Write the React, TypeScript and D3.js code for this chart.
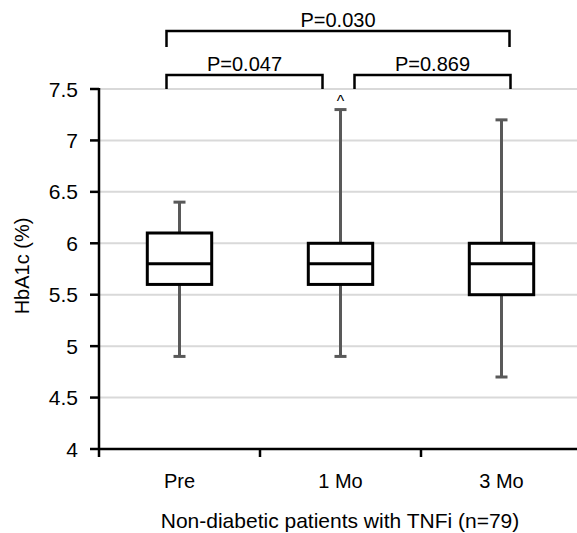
import React from "react";
import * as d3 from "d3";

const categories = ["Pre", "1 Mo", "3 Mo"];
const whiskerMin = [4.9, 4.9, 4.7];
const q1 = [5.6, 5.6, 5.5];
const median = [5.8, 5.8, 5.8];
const q3 = [6.1, 6.0, 6.0];
const whiskerMax = [6.4, 7.3, 7.2];
const yTicks = [4, 4.5, 5, 5.5, 6, 6.5, 7, 7.5];
const markers = ["", "^", ""];
const comparisons = [
  { from: 0, to: 1, label: "P=0.047", level: 0 },
  { from: 1, to: 2, label: "P=0.869", level: 0 },
  { from: 0, to: 2, label: "P=0.030", level: 1 },
];

const W = 577;
const H = 533;
const FONT = "'Liberation Sans', Arial, sans-serif";

export default function App() {
  const y = d3.scaleLinear().domain([4, 7.5]).range([449, 89]);
  const x = d3.scaleBand<string>().domain(categories).range([99, 582]).padding(0);
  const bw = x.bandwidth();
  const boxW = bw * 0.4;
  const cx = (i: number) => (x(categories[i]) as number) + bw / 2;
  const capW = 12;
  const fmt = (v: number) => String(v);

  const bracketOffsets: Record<string, [number, number]> = {
    "P=0.047": [-13, -18],
    "P=0.869": [14, 9],
    "P=0.030": [-13, 8],
  };

  return (
    <svg width={W} height={H} style={{ position: "absolute", left: 0, top: 0, background: "#fff" }} fontFamily={FONT}>
      {/* grid */}
      {yTicks.filter((t) => t > 4).map((t) => (
        <line key={"g" + t} x1={99} x2={W} y1={y(t)} y2={y(t)} stroke="#d9d9d9" strokeWidth={2} />
      ))}
      {/* y axis */}
      <line x1={99} x2={99} y1={y(7.5) - 1} y2={y(4) + 8} stroke="#000" strokeWidth={2.5} />
      {yTicks.map((t) => (
        <g key={"t" + t}>
          <line x1={90} x2={99} y1={y(t)} y2={y(t)} stroke="#000" strokeWidth={2.5} />
          <text x={78} y={y(t)} dy="0.36em" textAnchor="end" fontSize={21} fill="#000">
            {fmt(t)}
          </text>
        </g>
      ))}
      {/* x axis */}
      <line x1={99} x2={W} y1={y(4)} y2={y(4)} stroke="#000" strokeWidth={2.5} />
      {categories.slice(1).map((c) => (
        <line key={"xt" + c} x1={x(c)} x2={x(c)} y1={y(4)} y2={y(4) + 8} stroke="#000" strokeWidth={2.5} />
      ))}
      {categories.map((c, i) => (
        <text key={"xl" + c} x={cx(i)} y={488} textAnchor="middle" fontSize={20} fill="#000">
          {c}
        </text>
      ))}
      <text x={340} y={528} textAnchor="middle" fontSize={21} fill="#000">
        Non-diabetic patients with TNFi (n=79)
      </text>
      <text transform={`translate(29,266) rotate(-90)`} textAnchor="middle" fontSize={20} fill="#000">
        HbA1c (%)
      </text>
      {/* boxes */}
      {categories.map((c, i) => (
        <g key={"b" + c}>
          <line x1={cx(i)} x2={cx(i)} y1={y(whiskerMax[i])} y2={y(q3[i])} stroke="#595959" strokeWidth={3} />
          <line x1={cx(i)} x2={cx(i)} y1={y(q1[i])} y2={y(whiskerMin[i])} stroke="#595959" strokeWidth={3} />
          <line x1={cx(i) - capW / 2} x2={cx(i) + capW / 2} y1={y(whiskerMax[i])} y2={y(whiskerMax[i])} stroke="#595959" strokeWidth={3} />
          <line x1={cx(i) - capW / 2} x2={cx(i) + capW / 2} y1={y(whiskerMin[i])} y2={y(whiskerMin[i])} stroke="#595959" strokeWidth={3} />
          <rect x={cx(i) - boxW / 2} y={y(q3[i])} width={boxW} height={y(q1[i]) - y(q3[i])} fill="#fff" stroke="#000" strokeWidth={3} />
          <line x1={cx(i) - boxW / 2} x2={cx(i) + boxW / 2} y1={y(median[i])} y2={y(median[i])} stroke="#000" strokeWidth={3} />
          {markers[i] && (
            <text x={cx(i)} y={y(whiskerMax[i]) - 3} textAnchor="middle" fontSize={16} fill="#000">
              {markers[i]}
            </text>
          )}
        </g>
      ))}
      {/* brackets */}
      {comparisons.map((cmp) => {
        const [o1, o2] = bracketOffsets[cmp.label];
        const x1 = cx(cmp.from) + o1;
        const x2 = cx(cmp.to) + o2;
        const top = cmp.level === 0 ? 75 : 31;
        const bot = cmp.level === 0 ? 89 : 47;
        return (
          <g key={cmp.label}>
            <path d={`M${x1},${bot}V${top}H${x2}V${bot}`} fill="none" stroke="#000" strokeWidth={2.5} />
            <text x={(x1 + x2) / 2} y={top - 4} textAnchor="middle" fontSize={20} fill="#000">
              {cmp.label}
            </text>
          </g>
        );
      })}
    </svg>
  );
}
